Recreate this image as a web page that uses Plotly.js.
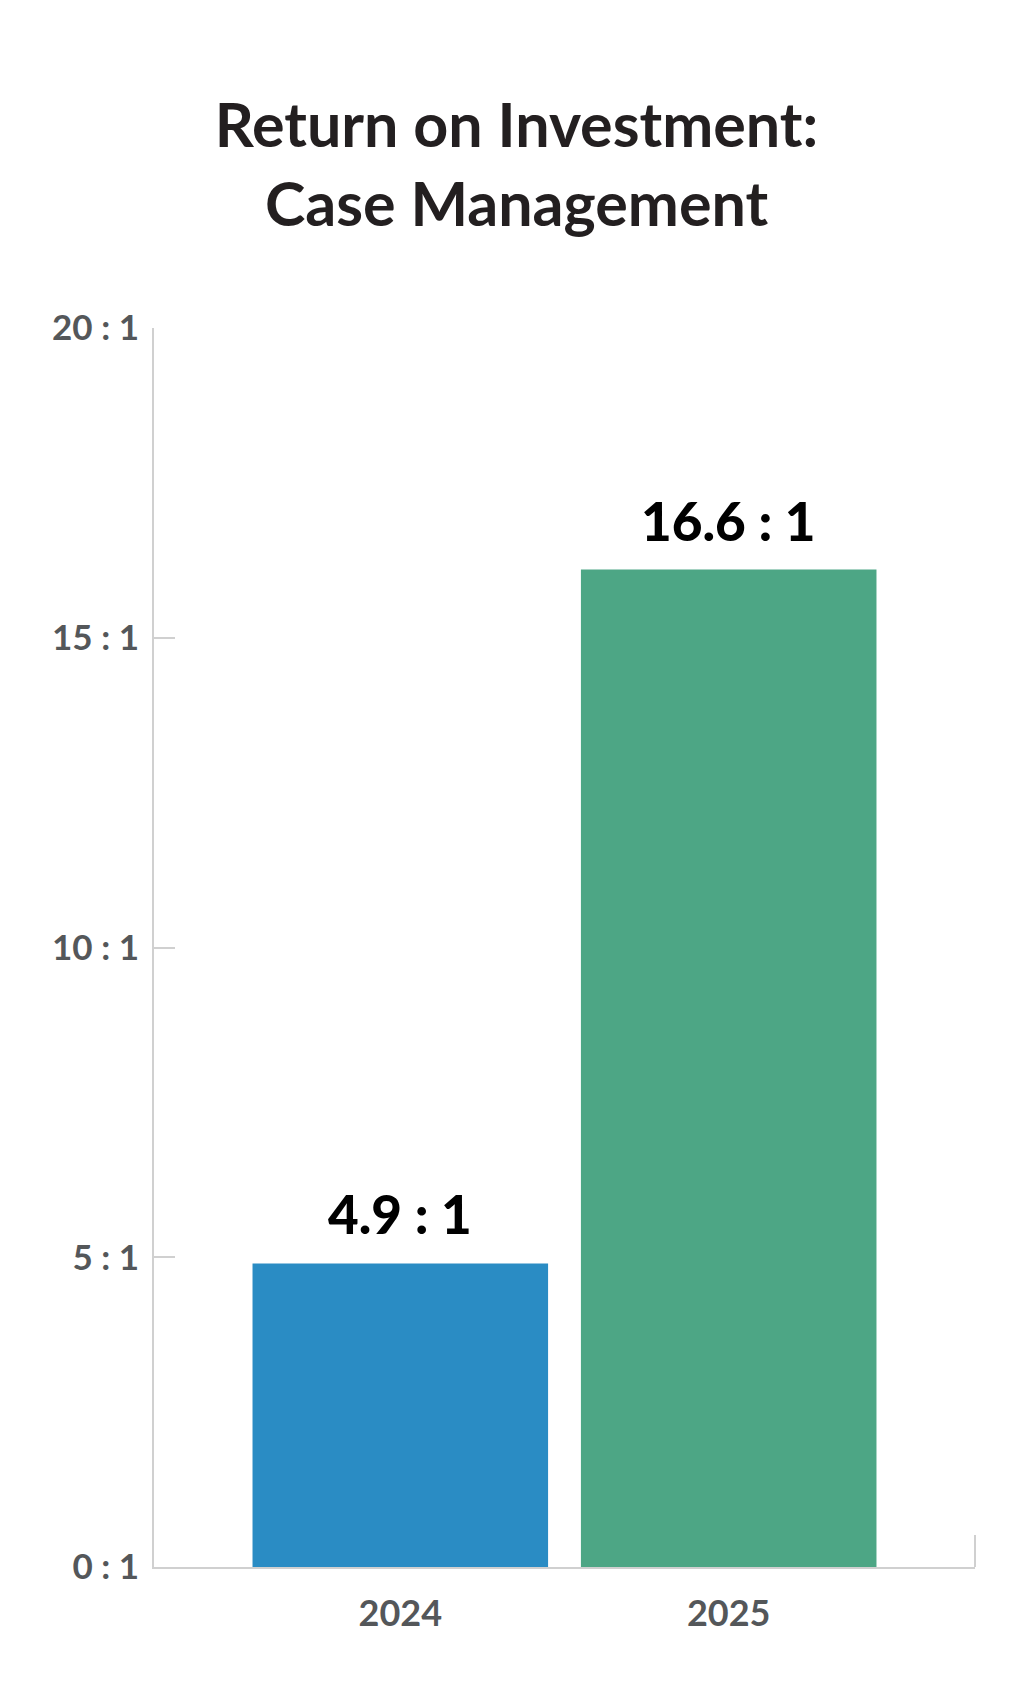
<!DOCTYPE html>
<html>
<head>
<meta charset="utf-8">
<script src="https://cdn.plot.ly/plotly-3.0.1.min.js"></script>
<style>
  html, body { margin: 0; padding: 0; background: #fff; }
  #chart { width: 1033px; height: 1686px; }
</style>
</head>
<body>
<div id="chart"></div>
<script>
  const years = ['2024', '2025'];
  const barHeights = [4.9, 16.1];
  const barLabels = ['4.9 : 1', '16.6 : 1'];
  const barColors = ['#2A8CC4', '#4DA685'];
  const yTickVals = [0, 5, 10, 15, 20];
  const yTickText = ['0 : 1', '5 : 1', '10 : 1', '15 : 1', '20 : 1'];

  const axisGray = '#d0d0d0';
  const labelGray = '#54575a';
  const fontFamily = 'Lato, "Open Sans", sans-serif';

  const trace = {
    type: 'bar',
    x: years,
    y: barHeights,
    marker: { color: barColors },
    hoverinfo: 'skip'
  };

  // category axis: annotations take the category index, not the name
  const annotations = years.map((_, index) => ({
    x: index,
    y: barHeights[index],
    xref: 'x',
    yref: 'y',
    text: barLabels[index],
    showarrow: false,
    yanchor: 'bottom',
    yshift: 16,
    font: { family: fontFamily, size: 53, color: '#000', weight: 900 }
  }));

  const layout = {
    width: 1033,
    height: 1686,
    margin: { l: 154, r: 58, t: 328, b: 119 },
    paper_bgcolor: '#fff',
    plot_bgcolor: '#fff',
    showlegend: false,
    bargap: 0.1,
    title: {
      text: 'Return on Investment:<br>Case Management',
      x: 0.5,
      xref: 'container',
      xanchor: 'center',
      y: 1 - 147 / 1686,
      yref: 'container',
      yanchor: 'top',
      font: { family: fontFamily, size: 61, color: '#231f20', weight: 700 }
    },
    xaxis: {
      type: 'category',
      range: [-0.75, 1.75],
      showline: true,
      linecolor: axisGray,
      linewidth: 2,
      ticks: '',
      showgrid: false,
      zeroline: false,
      tickfont: { family: fontFamily, size: 36, color: labelGray, weight: 700 },
      ticklabelstandoff: 14
    },
    yaxis: {
      range: [0, 20],
      tickvals: yTickVals,
      ticktext: yTickText,
      showline: true,
      linecolor: axisGray,
      linewidth: 2,
      ticks: 'inside',
      ticklen: 21,
      tickwidth: 2,
      tickcolor: axisGray,
      showgrid: false,
      zeroline: false,
      tickfont: { family: fontFamily, size: 35, color: labelGray, weight: 700 },
      ticklabelstandoff: 6
    },
    shapes: [{
      type: 'line',
      xref: 'paper',
      yref: 'paper',
      x0: 1, x1: 1,
      y0: 0, y1: 32 / 1239,
      line: { color: axisGray, width: 2 }
    }],
    annotations
  };

  Plotly.newPlot('chart', [trace], layout, { displayModeBar: false, staticPlot: true });
</script>
</body>
</html>
